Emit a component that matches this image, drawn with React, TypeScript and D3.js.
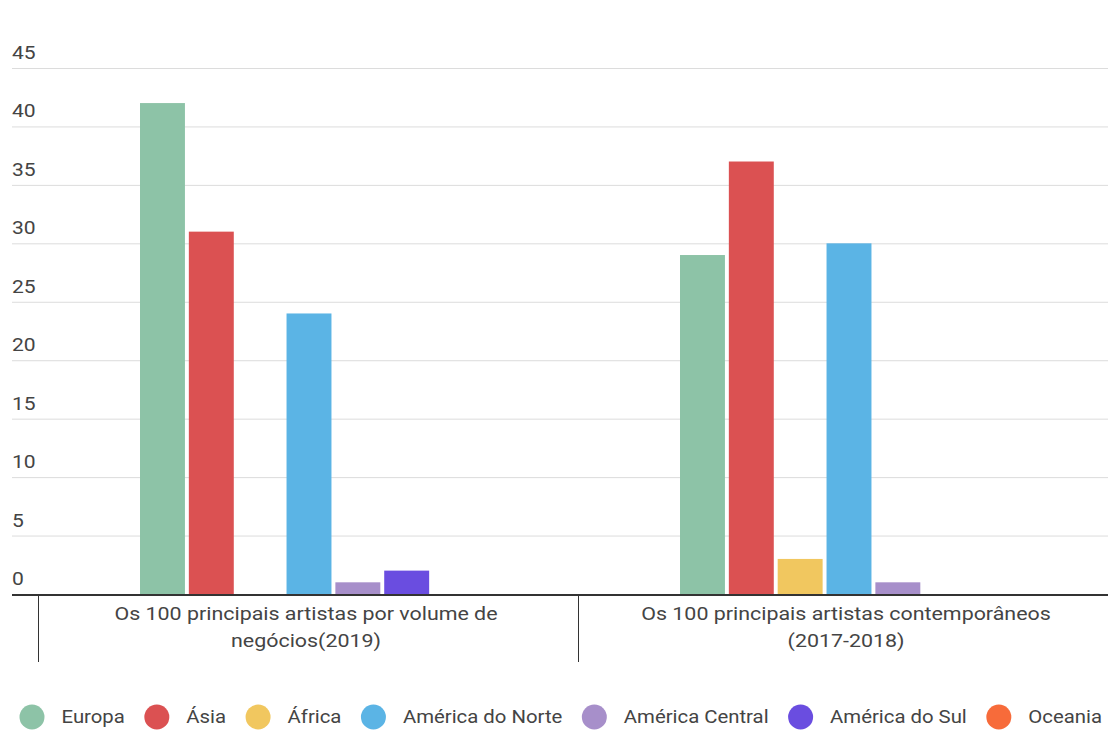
import React, { useEffect, useRef } from "react";
import * as d3 from "d3";

const categories = [
  ["Os 100 principais artistas por volume de", "negócios(2019)"],
  ["Os 100 principais artistas contemporâneos", "(2017-2018)"],
];
const seriesNames = ["Europa", "Ásia", "África", "América do Norte", "América Central", "América do Sul", "Oceania"];
const seriesColors = ["#8dc3a7", "#db5152", "#f1c75f", "#5bb4e5", "#a78fca", "#6a4de0", "#f76b3a"];
const group1Values = [42, 31, 0, 24, 1, 2, 0];
const group2Values = [29, 37, 3, 30, 1, 0, 0];
const yTicks = [0, 5, 10, 15, 20, 25, 30, 35, 40, 45];

const W = 1108;
const H = 751;

export default function App() {
  const ref = useRef<SVGSVGElement>(null);
  useEffect(() => {
    const svg = d3.select(ref.current);
    svg.selectAll("*").remove();
    const font = "Roboto, 'Noto Sans', sans-serif";
    const fs = 18;
    const y = d3.scaleLinear().domain([0, 45]).range([594, 68]);
    const x0 = d3.scaleBand<number>().domain([0, 1]).range([38, 1118]);
    const x1 = d3.scaleBand<number>().domain(d3.range(seriesNames.length)).range([0, 338]).paddingInner(0.08);
    const values = [group1Values, group2Values];

    const addText = (x: number, yy: number, s: string, anchor = "start", sx = 1.17) =>
      svg.append("text")
        .attr("transform", `translate(${x},${yy}) scale(${sx},1)`)
        .attr("text-anchor", anchor)
        .attr("font-family", font).attr("font-size", fs).attr("fill", "#444")
        .text(s);

    // gridlines
    svg.append("g").selectAll("line").data(yTicks.filter((t) => t > 0)).enter().append("line")
      .attr("x1", 12).attr("x2", W).attr("y1", (d) => y(d) + 0.5).attr("y2", (d) => y(d) + 0.5)
      .attr("stroke", "#dcdcdc").attr("stroke-width", 1);
    yTicks.forEach((t) => addText(12, y(t) - 9, String(t)));

    // bars
    values.forEach((vals, gi) => {
      const offset = x0(gi)! + x0.bandwidth() / 2 - 338 / 2 + 1;
      svg.append("g").selectAll("rect").data(vals).enter().append("rect")
        .attr("x", (d, i) => offset + x1(i)!)
        .attr("width", x1.bandwidth())
        .attr("y", (d) => y(d))
        .attr("height", (d) => y(0) - y(d))
        .attr("fill", (d, i) => seriesColors[i]);
    });

    // axis
    svg.append("line").attr("x1", 12).attr("x2", W).attr("y1", 595).attr("y2", 595)
      .attr("stroke", "#333").attr("stroke-width", 2);
    [0, 1].forEach((gi) => {
      const xx = x0(gi)! + 0.5;
      svg.append("line").attr("x1", xx).attr("x2", xx).attr("y1", 595).attr("y2", 662)
        .attr("stroke", "#333").attr("stroke-width", 1);
    });
    categories.forEach((lines, gi) => {
      const cx = x0(gi)! + x0.bandwidth() / 2 - 2;
      lines.forEach((ln, li) => addText(cx, 620 + li * 27, ln, "middle", 1.19));
    });

    // legend
    let cx = 32;
    const ly = 717;
    const lsx = 1.13;
    seriesNames.forEach((name, i) => {
      svg.append("circle").attr("cx", cx).attr("cy", ly).attr("r", 12.5).attr("fill", seriesColors[i]);
      const t = addText(cx + 29.5, ly + 6, name, "start", lsx);
      const w = (t.node() as SVGTextElement).getComputedTextLength() * lsx;
      cx = cx + 29.5 + w + 32;
    });
  }, []);
  return (
    <svg ref={ref} width={W} height={H} style={{ position: "absolute", left: 0, top: 0, background: "#fff" }} />
  );
}
